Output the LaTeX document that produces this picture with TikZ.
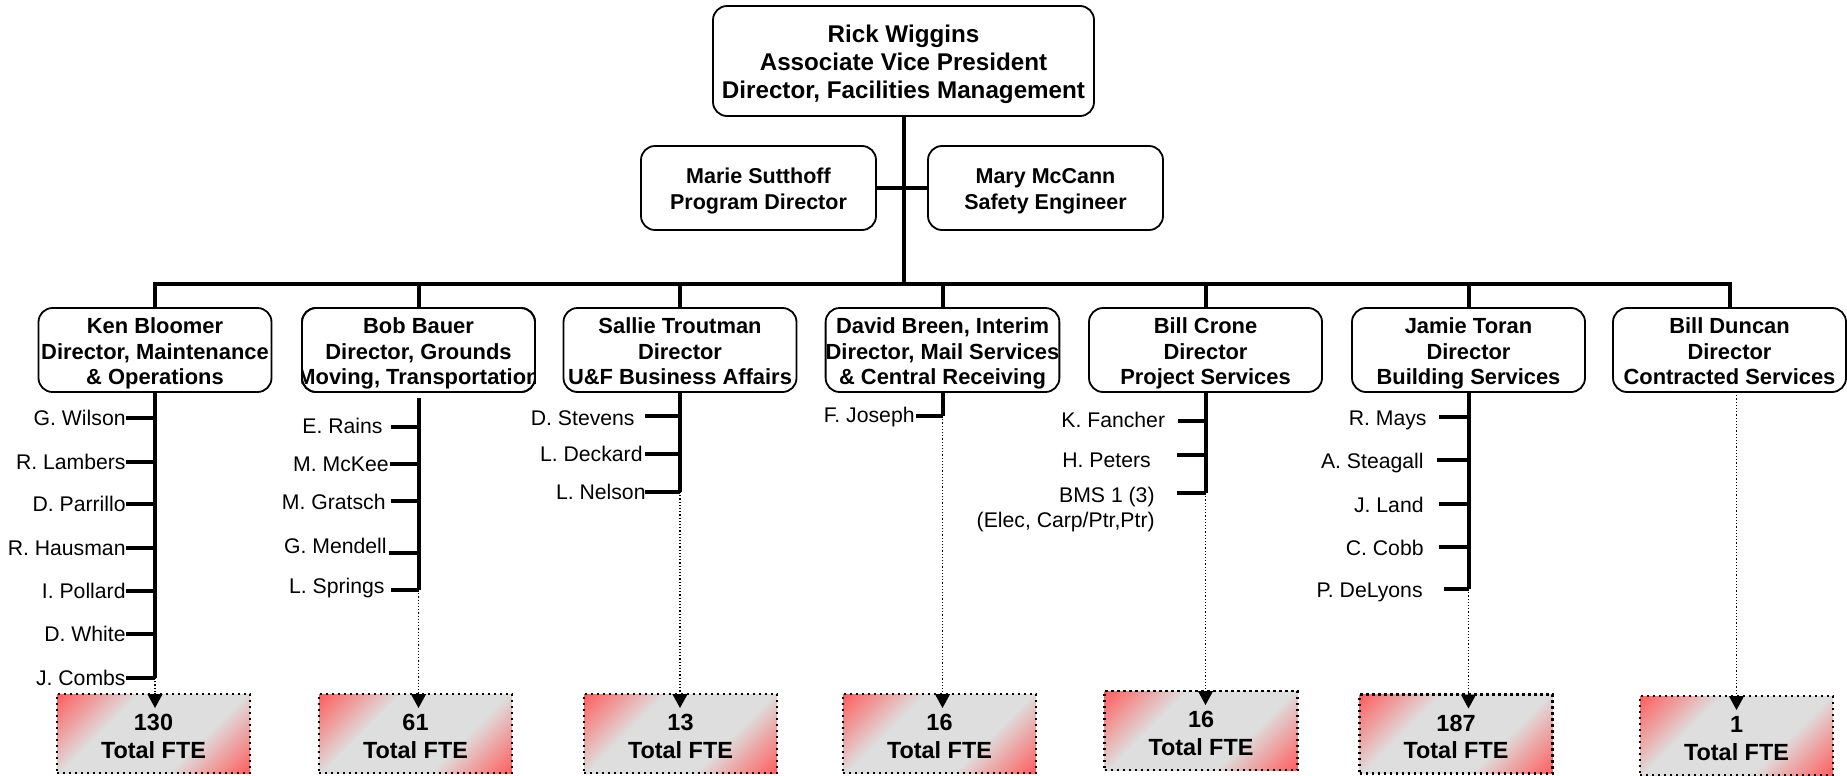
\documentclass[tikz,border=0pt]{standalone}
\usepackage{fontspec}
\setmainfont{Liberation Sans}
\usetikzlibrary{arrows.meta}
\definecolor{fteRed}{RGB}{255,90,90}
\definecolor{fteGray}{RGB}{222,222,222}
\pgfdeclarehorizontalshading{ftesh}{100bp}{color(0bp)=(fteRed); color(14bp)=(fteRed); color(36bp)=(fteGray); color(64bp)=(fteGray); color(86bp)=(fteRed); color(100bp)=(fteRed)}
\newcommand{\topstrutA}[1]{\rule{0pt}{#1}}
\newcommand{\botstrutZ}{\rule[-3pt]{0pt}{3pt}}
\begin{document}
\begin{tikzpicture}[x=0.5pt,y=-0.5pt,
  box/.style={draw, line width=0.9pt, rounded corners=7pt, fill=white, align=center, inner sep=0pt, outer sep=0pt, font=\bfseries\fontsize{10.95}{12.8}\selectfont},
  topbox/.style={box, minimum width=190.5pt, minimum height=55pt, font=\bfseries\fontsize{12.1}{14.15}\selectfont},
  staffbox/.style={box, minimum width=117.5pt, minimum height=42pt, font=\bfseries\fontsize{10.75}{13}\selectfont},
  dirbox/.style={box, minimum width=116.5pt, minimum height=42pt},
  member/.style={inner sep=0pt, text height=7.6pt, text depth=0pt, font=\fontsize{10.6}{12.8}\selectfont},
  ftebox/.style={draw, line width=1.25pt, dash pattern=on 1.1pt off 1.9pt, shading=ftesh, shading angle=-45, minimum width=96.5pt, minimum height=39.5pt, align=center, inner sep=0pt, outer sep=0pt, font=\bfseries\fontsize{11.7}{13.9}\selectfont},
  conn/.style={line width=2pt},
  tick/.style={line width=2pt},
  dotline/.style={line width=0.6pt, dash pattern=on 0.6pt off 1pt},
  dotarrow/.style={dotline, -{Triangle[width=7.5pt,length=7pt]}},
]
\useasboundingbox (0,0) rectangle (1847,776);
\fill[white] (0,0) rectangle (1847,776);

% top level
\node[topbox] (rick) at (903.5,61) {\topstrutA{12.36pt}Rick Wiggins\\Associate Vice President\\Director, Facilities Management\botstrutZ};
\node[staffbox] (marie) at (758.5,188) {\topstrutA{11.4pt}Marie Sutthoff\\Program Director\botstrutZ};
\node[staffbox] (mary) at (1045.5,188) {\topstrutA{11.4pt}Mary McCann\\Safety Engineer\botstrutZ};
\coordinate (bus) at (903.5,284);

% directors
\node[dirbox] (ken) at (155,350) {\topstrutA{12.34pt}Ken Bloomer\\Director, Maintenance\\\& Operations\botstrutZ};
\node[dirbox] (bob) at (418.5,350) {\topstrutA{12.34pt}Bob Bauer\\Director, Grounds\\\makebox[0pt]{Moving, Transportation}\botstrutZ};
\fill[white] ([xshift=-5pt,yshift=3pt]bob.south west) rectangle ([xshift=-0.45pt,yshift=14pt]bob.south west);
\fill[white] ([xshift=0.45pt,yshift=3pt]bob.south east) rectangle ([xshift=5pt,yshift=14pt]bob.south east);
\draw[line width=0.9pt, rounded corners=7pt] (bob.south west) rectangle (bob.north east);
\node[dirbox] (sallie) at (680,350) {\topstrutA{12.34pt}Sallie Troutman\\Director\\U\&F Business Affairs\botstrutZ};
\node[dirbox] (david) at (942.5,350) {\topstrutA{12.34pt}David Breen, Interim\\Director, Mail Services\\\& Central Receiving\botstrutZ};
\node[dirbox] (crone) at (1205.5,350) {\topstrutA{12.34pt}Bill Crone\\Director\\Project Services\botstrutZ};
\node[dirbox] (jamie) at (1468.5,350) {\topstrutA{12.34pt}Jamie Toran\\Director\\Building Services\botstrutZ};
\node[dirbox] (duncan) at (1729.5,350) {\topstrutA{12.34pt}Bill Duncan\\Director\\Contracted Services\botstrutZ};

% top connectors
\draw[conn] (rick.south) -- (rick.south |- bus);
\draw[conn] (marie.east) -- (mary.west);
\draw[conn] (ken.north) -- (ken.north |- bus) -- (duncan.north |- bus) -- (duncan.north);
\foreach \d in {bob,sallie,david,crone,jamie} \draw[conn] (\d.north) -- (\d.north |- bus);

% FTE boxes
\node[ftebox] (fte1) at (153.5,733.5) {\topstrutA{14.08pt}130\\Total FTE\botstrutZ};
\node[ftebox] (fte2) at (415.5,733.5) {\topstrutA{14.08pt}61\\Total FTE\botstrutZ};
\node[ftebox] (fte3) at (680.5,733.5) {\topstrutA{14.08pt}13\\Total FTE\botstrutZ};
\node[ftebox] (fte4) at (939.5,733.5) {\topstrutA{14.08pt}16\\Total FTE\botstrutZ};
\node[ftebox] (fte5) at (1201,730.5) {\topstrutA{14.08pt}16\\Total FTE\botstrutZ};
\node[ftebox] (fte6) at (1456,734) {\topstrutA{14.08pt}187\\Total FTE\botstrutZ};
\node[ftebox] (fte7) at (1736.5,735.5) {\topstrutA{14.08pt}1\\Total FTE\botstrutZ};
\foreach \i in {1,...,7} \coordinate (a\i) at ([yshift=-7pt]fte\i.north);

% Ken
\node[member, anchor=east] (k1) at (126,418) {G. Wilson};
\node[member, anchor=east] (k2) at (126,462) {R. Lambers};
\node[member, anchor=east] (k3) at (126,504) {D. Parrillo};
\node[member, anchor=east] (k4) at (126,548) {R. Hausman};
\node[member, anchor=east] (k5) at (126,591) {I. Pollard};
\node[member, anchor=east] (k6) at (126,634) {D. White};
\node[member, anchor=east] (k7) at (126,678) {J. Combs};
\draw[conn] (ken.south) -- (ken.south |- k7.east);
\foreach \i in {1,...,7} \draw[tick] (k\i.east) -- (k\i.east -| ken.south);
\draw[dotarrow] (ken.south |- k7.east) -- (a1 -| ken.south);

% Bob
\node[member, anchor=east] (b1) at (383,426) {E. Rains};
\node[member, anchor=east] (b2) at (389,464) {M. McKee};
\node[member, anchor=east] (b3) at (386,502) {M. Gratsch};
\node[member, anchor=east] (b4) at (387,546) {G. Mendell};
\node[member, anchor=east] (b5) at (385,586) {L. Springs};
\coordinate (bobtop) at ([yshift=-3pt]bob.south);
\coordinate (b1t) at (391,427);
\coordinate (b2t) at (390,464);
\coordinate (b3t) at (391,501);
\coordinate (b4t) at (389,553);
\coordinate (b5t) at (391,590);
\draw[conn] (bobtop) -- (bobtop |- b5t);
\foreach \i in {1,...,5} \draw[tick] (b\i t) -- (b\i t -| bob.south);
\draw[dotarrow] (bobtop |- b5t) -- (a2 -| bob.south);

% Sallie
\node[member, anchor=east] (s1) at (635,418) {D. Stevens};
\node[member, anchor=east] (s2) at (643,454) {L. Deckard};
\node[member, anchor=east] (s3) at (646,492) {L. Nelson};
\coordinate (s1t) at (645,416);
\coordinate (s2t) at (645,454);
\coordinate (s3t) at (645,492);
\draw[conn] (sallie.south) -- (sallie.south |- s3t);
\foreach \i in {1,...,3} \draw[tick] (s\i t) -- (s\i t -| sallie.south);
\draw[dotarrow] (sallie.south |- s3t) -- (a3 -| sallie.south);

% David
\node[member, anchor=east] (d1) at (915,415) {F. Joseph};
\coordinate (d1t) at (916,416);
\draw[conn] (david.south) -- (david.south |- d1t);
\draw[tick] (d1t) -- (d1t -| david.south);
\draw[dotarrow] (david.south |- d1t) -- (a4 -| david.south);

% Bill Crone
\node[member, anchor=west] (c1) at (1061,420) {K. Fancher};
\node[member, anchor=west] (c2) at (1062,460) {H. Peters};
\node[member, anchor=east] (c3) at (1155,495) {BMS 1 (3)};
\node[member, anchor=east] (c4) at (1155,520) {(Elec, Carp/Ptr,Ptr)};
\coordinate (c1t) at (1178,421);
\coordinate (c2t) at (1177,455);
\coordinate (c3t) at (1177,493);
\draw[conn] (crone.south) -- (crone.south |- c3t);
\foreach \i in {1,...,3} \draw[tick] (c\i t) -- (c\i t -| crone.south);
\draw[dotarrow] (crone.south |- c3t) -- (a5 -| crone.south);

% Jamie
\node[member, anchor=east] (j1) at (1427,418) {R. Mays};
\node[member, anchor=east] (j2) at (1424,461) {A. Steagall};
\node[member, anchor=east] (j3) at (1424,505) {J. Land};
\node[member, anchor=east] (j4) at (1424,548) {C. Cobb};
\node[member, anchor=east] (j5) at (1423,590) {P. DeLyons};
\coordinate (j1t) at (1439,417);
\coordinate (j2t) at (1437,460);
\coordinate (j3t) at (1439,504);
\coordinate (j4t) at (1439,547);
\coordinate (j5t) at (1444,589);
\draw[conn] (jamie.south) -- (jamie.south |- j5t);
\foreach \i in {1,...,5} \draw[tick] (j\i t) -- (j\i t -| jamie.south);
\draw[dotarrow] (jamie.south |- j5t) -- (a6 -| jamie.south);

% Bill Duncan
\draw[dotarrow] (a7 |- duncan.south) -- (a7);
\end{tikzpicture}
\end{document}
